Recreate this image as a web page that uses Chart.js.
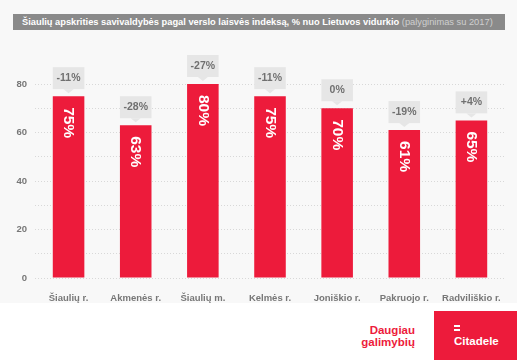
<!DOCTYPE html>
<html>
<head>
<meta charset="utf-8">
<script src="https://cdn.jsdelivr.net/npm/chart.js@4/dist/chart.umd.min.js"></script>
<style>
  body { margin: 0; background: #fff; font-family: "Liberation Sans", Arial, sans-serif; }
  #wrap { position: relative; width: 517px; height: 360px; overflow: hidden; }
  #top { position: absolute; left: 0; top: 0; width: 517px; height: 303px; background: #f8f8f8; }
  #chart { position: absolute; left: 0; top: 0; }
  #title { position: absolute; left: 13px; top: 14px; width: 492px; height: 16px; background: #8a8a8a;
           color: #fff; font-weight: bold; font-size: 9.3px; line-height: 16px; padding-left: 9px; box-sizing: border-box; white-space: nowrap; overflow: hidden; }
  #title span { color: #cfcfcf; font-weight: normal; }
  #slogan { position: absolute; right: 102px; top: 324px; color: #ed1b3b; font-weight: bold; font-size: 11.5px; line-height: 12px; text-align: right; }
  #logo { position: absolute; left: 434px; top: 311px; width: 83px; height: 49px; background: #ed1b3b; color: #fff; font-weight: bold; }
  #logo .eq { position: absolute; left: 20px; top: 14px; width: 6px; height: 2px; background: #fff; box-shadow: 0 4px 0 #fff; }
  #logo .name { position: absolute; left: 20px; top: 24px; font-size: 11.5px; }
</style>
</head>
<body>
<div id="wrap">
  <div id="top"><canvas id="chart" width="517" height="303"></canvas></div>
  <div id="title">Šiaulių apskrities savivaldybės pagal verslo laisvės indeksą, % nuo Lietuvos vidurkio <span>(palyginimas su 2017)</span></div>
  <div id="slogan">Daugiau<br>galimybių</div>
  <div id="logo"><div class="eq"></div><div class="name">Citadele</div></div>
</div>
<script>
// data
const regions = ['Šiaulių r.', 'Akmenės r.', 'Šiaulių m.', 'Kelmės r.', 'Joniškio r.', 'Pakruojo r.', 'Radviliškio r.'];
const indexValues = [75, 63, 80, 75, 70, 61, 65];
const changeLabels = ['-11%', '-28%', '-27%', '-11%', '0%', '-19%', '+4%'];

const barLabels = {
  id: 'barLabels',
  afterDatasetsDraw(chart) {
    const ctx = chart.ctx;
    const meta = chart.getDatasetMeta(0);
    meta.data.forEach((bar, i) => {
      const x = bar.x, y = bar.y, w = bar.width;
      // value inside bar, rotated
      ctx.save();
      ctx.translate(x, y + 11);
      ctx.rotate(Math.PI / 2);
      ctx.fillStyle = '#fff';
      ctx.font = 'bold 15.5px "Liberation Sans", Arial, sans-serif';
      ctx.textAlign = 'left';
      ctx.textBaseline = 'middle';
      ctx.fillText(indexValues[i] + '%', 0, 0);
      ctx.restore();
      // change box above bar
      const bottom = y - 7, h = 22;
      ctx.save();
      ctx.fillStyle = '#e6e6e6';
      ctx.fillRect(x - w / 2, bottom - h, w, h);
      ctx.beginPath();
      ctx.moveTo(x - 5, bottom);
      ctx.lineTo(x + 5, bottom);
      ctx.lineTo(x, bottom + 4);
      ctx.closePath();
      ctx.fill();
      ctx.fillStyle = '#707070';
      ctx.font = 'bold 10.5px "Liberation Sans", Arial, sans-serif';
      ctx.textAlign = 'center';
      ctx.textBaseline = 'middle';
      ctx.fillText(changeLabels[i], x, bottom - h / 2);
      ctx.restore();
    });
  }
};

new Chart(document.getElementById('chart'), {
  type: 'bar',
  data: {
    labels: regions,
    datasets: [{
      data: indexValues,
      backgroundColor: '#ed1b3b',
      categoryPercentage: 1,
      barPercentage: 0.47
    }]
  },
  options: {
    responsive: false,
    animation: false,
    layout: { padding: { top: 84, right: 12, left: 0, bottom: 0 } },
    plugins: { legend: { display: false }, tooltip: { enabled: false } },
    scales: {
      x: {
        grid: { display: false },
        border: { display: false },
        ticks: { color: '#777', padding: 7, font: { size: 9.5, weight: 'bold', family: '"Liberation Sans", Arial, sans-serif' } },
        afterFit(scale) { scale.height = 25; }
      },
      y: {
        min: 0, max: 80,
        grid: { color: '#d8d8d8', drawTicks: false },
        border: { display: false, dash: [1, 2] },
        ticks: {
          stepSize: 10, color: '#777', padding: 8,
          font: { size: 9.5, weight: 'bold', family: '"Liberation Sans", Arial, sans-serif' },
          callback: v => (v % 20 === 0 ? v : '')
        },
        afterFit(scale) { scale.width = 35; }
      }
    }
  },
  plugins: [barLabels]
});
</script>
</body>
</html>
